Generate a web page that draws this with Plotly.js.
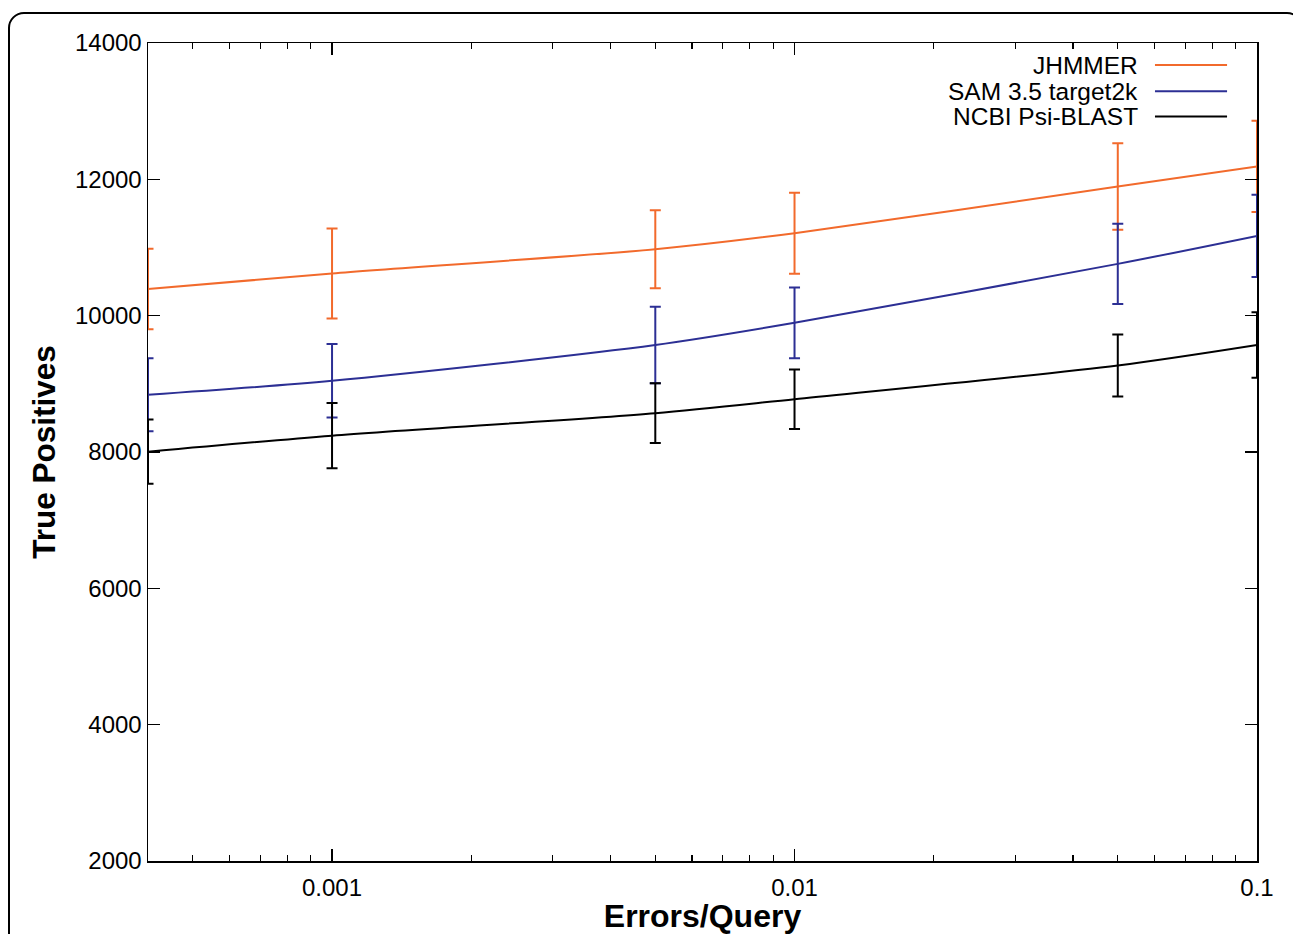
<!DOCTYPE html>
<html>
<head>
<meta charset="utf-8">
<script src="https://cdn.plot.ly/plotly-3.0.1.min.js"></script>
<style>
  html, body { margin: 0; padding: 0; background: #ffffff; }
  #frame { position: absolute; left: 8px; top: 12px; width: 1295px; height: 1000px;
           border: 2px solid #000; border-radius: 16px; box-sizing: border-box; }
  #chart { position: absolute; left: 0; top: 0; width: 1293px; height: 934px; }
</style>
</head>
<body>
<div id="frame"></div>
<div id="chart"></div>
<script>
const errorsPerQuery = [0.0004, 0.001, 0.005, 0.01, 0.05, 0.1];

const seriesNames = ["JHMMER", "SAM 3.5 target2k", "NCBI Psi-BLAST"];

const jhmmerTP  = [10390, 10620, 10975, 11210, 11895, 12190];
const jhmmerErr = [590, 660, 572, 595, 634, 668];

const samTP  = [8840, 9045, 9570, 9895, 10760, 11170];
const samErr = [535, 540, 562, 518, 590, 604];

const blastTP  = [8005, 8240, 8570, 8775, 9270, 9570];
const blastErr = [470, 480, 437, 437, 455, 479];

const xTickVals = [0.001, 0.01, 0.1];
const xTickText = ["0.001", "0.01", "0.1"];
const yTickVals = [2000, 4000, 6000, 8000, 10000, 12000, 14000];
const yTickText = ["2000", "4000", "6000", "8000", "10000", "12000", "14000"];

const colors = ["#f26a2c", "#2c2f94", "#000000"];
const allY = [jhmmerTP, samTP, blastTP];
const allErr = [jhmmerErr, samErr, blastErr];

const traces = allY.map((ys, i) => ({
  type: "scatter",
  mode: "lines",
  x: errorsPerQuery,
  y: ys,
  name: seriesNames[i],
  line: { color: colors[i], width: 2, shape: "spline", smoothing: 0.8 },
  error_y: { type: "data", array: allErr[i], visible: true, color: colors[i], thickness: 2, width: 5.5 },
  cliponaxis: false,
  showlegend: false
}));

const FONT = "Liberation Sans, Arial, Helvetica, sans-serif";

// custom legend (text right, line sample on the right)
const legendY = [0.973, 0.941, 0.910];
const annotations = seriesNames.map((n, i) => ({
  xref: "paper", yref: "paper", x: 0.8945, y: legendY[i],
  xanchor: "right", yanchor: "middle", showarrow: false,
  text: n, font: { family: FONT, size: 24.5, color: "#000" }
}));
const shapes = seriesNames.map((n, i) => ({
  type: "line", xref: "paper", yref: "paper",
  x0: 0.908, x1: 0.973, y0: legendY[i], y1: legendY[i],
  line: { color: colors[i], width: 2 }
}));

const layout = {
  width: 1293, height: 934,
  margin: { l: 148, r: 36, t: 43, b: 73 },
  paper_bgcolor: "rgba(0,0,0,0)",
  plot_bgcolor: "rgba(0,0,0,0)",
  font: { family: FONT, size: 24, color: "#000" },
  showlegend: false,
  xaxis: {
    type: "log",
    range: [Math.log10(0.0004), -1],
    tickvals: xTickVals, ticktext: xTickText,
    ticks: "inside", ticklen: 12, tickwidth: 1.2, tickcolor: "#000",
    minor: { ticks: "inside", ticklen: 6, tickwidth: 1.2, tickcolor: "#000", dtick: "D1", showgrid: false },
    showline: true, linecolor: "#000", linewidth: 1.5, mirror: "allticks",
    showgrid: false, zeroline: false,
    ticklabelstandoff: 5,
    tickfont: { family: FONT, size: 24 },
    title: { text: "<b>Errors/Query</b>", font: { family: FONT, size: 32 }, standoff: 2 },
    automargin: false
  },
  yaxis: {
    range: [2000, 14000],
    tickvals: yTickVals, ticktext: yTickText,
    ticks: "inside", ticklen: 12, tickwidth: 1.2, tickcolor: "#000",
    showline: true, linecolor: "#000", linewidth: 1.5, mirror: "allticks",
    showgrid: false, zeroline: false,
    tickfont: { family: FONT, size: 24 },
    title: { text: "<b>True Positives</b>", font: { family: FONT, size: 31.5 }, standoff: 10 },
    automargin: false
  },
  annotations: annotations,
  shapes: shapes
};

Plotly.newPlot("chart", traces, layout, { displayModeBar: false, staticPlot: true });
</script>
</body>
</html>
